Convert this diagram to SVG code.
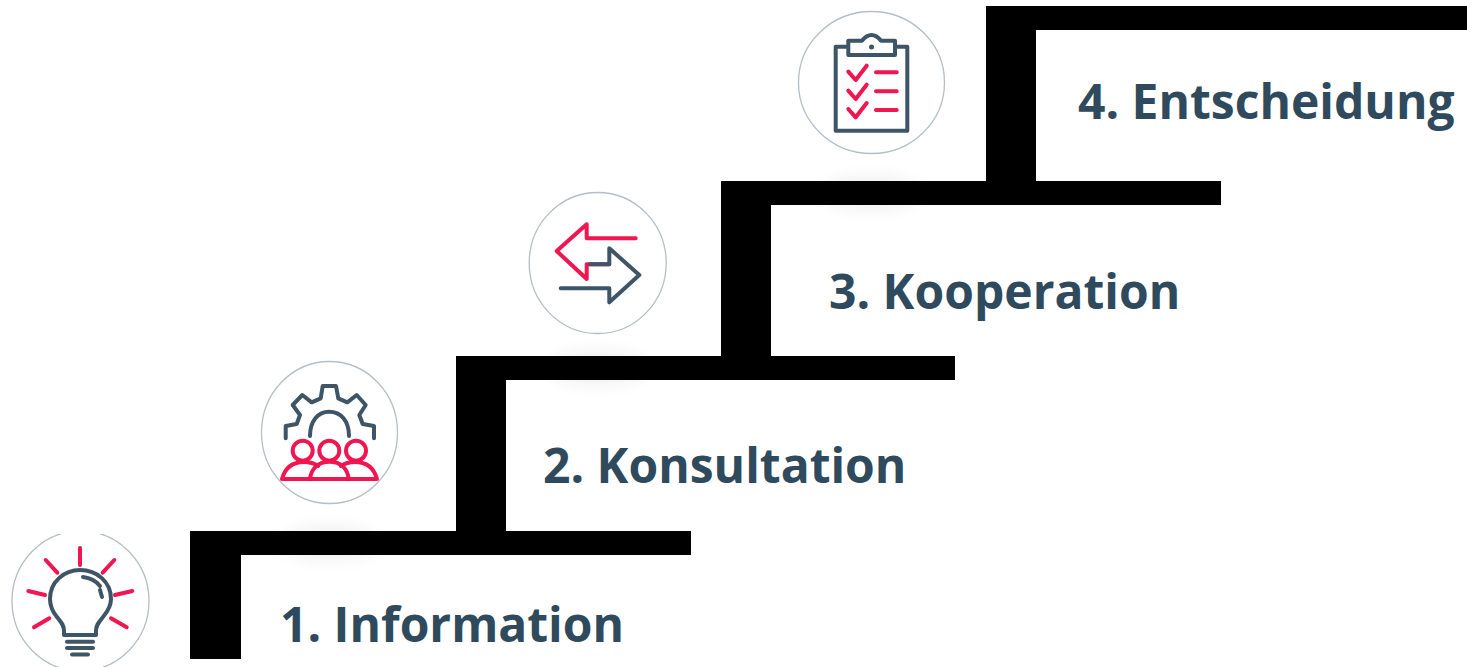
<svg xmlns="http://www.w3.org/2000/svg" width="1467" height="667" viewBox="0 0 1467 667">
<style>
.lbl{font-family:"Open Sans","Liberation Sans",sans-serif;font-weight:700;font-size:48px;fill:#2f4a5c}
.ring{fill:#fff;stroke:#b4bec6;stroke-width:1.3}
.d,.r{fill:none;stroke-width:4;stroke-linecap:round;stroke-linejoin:round}
.d{stroke:#3d5566}.r{stroke:#f0124f}
.soft{filter:url(#soft)}
.sh{fill:#000;opacity:.05;filter:url(#sh)}
.st{fill:#000}
</style>
<defs>
<filter id="soft" x="-10%" y="-10%" width="120%" height="120%"><feGaussianBlur stdDeviation="0.6"/></filter>
<filter id="sh" x="-50%" y="-100%" width="200%" height="300%"><feGaussianBlur stdDeviation="8"/></filter>
</defs>
<rect width="1467" height="667" fill="#fff"/>
<g id="shadows">
<ellipse class="sh" cx="330" cy="543" rx="50" ry="18"/>
<ellipse class="sh" cx="598" cy="368" rx="50" ry="18"/>
<ellipse class="sh" cx="871" cy="193" rx="50" ry="18"/>
</g>
<g id="stairs" class="soft">
<path class="st" d="M190 659V531H691V555H241V659Z"/>
<path class="st" d="M456 531V356H955V380H506V531Z"/>
<path class="st" d="M721 356V181H1221V205H771V356Z"/>
<path class="st" d="M986 181V6H1467V30H1036V181Z"/>
</g>
<g id="node-1" class="soft">
<clipPath id="c1"><rect x="0" y="534" width="160" height="133"/></clipPath>
<ellipse class="ring" cx="80.500" cy="601" rx="68.500" ry="70" clip-path="url(#c1)"/>
<path class="r" d="M80 548V565M45.700 560L57.300 572.700M114.300 560L102.700 572.700M28.300 591L45 595M132.300 591L115 595M34 627.300L49.300 618.300M126.700 627.300L111 618.300"/>
<path class="d" d="M64 635V631C64 625 61 622 57 617C52 611 50 606 50 599C50 582 64 570 80 570C97 570 111 582 111 599C111 606 108 611 103 617C99 622 96 625 96 631V635Z"/>
<path class="d" d="M83 577C91 578 97 582 100 586M100 590L102 597" stroke-width="3"/>
<path class="d" d="M67 641.700H93M67 648H93M72 654.500H88"/>
</g>
<g id="node-2" class="soft">
<ellipse class="ring" cx="329.500" cy="432.500" rx="68" ry="71"/>
<path class="d" d="M285.700 438.300V426L296.700 424L300 415L292.700 405L302.300 395L311.700 402.300L320.700 398.300L322.700 386H336L338.300 398.300L347.300 402.300L356.700 395L365.700 405L359.300 415L362.700 424L374 426V438.300"/>
<path class="d" d="M310 436C310 421 318 411.700 329 411.700C341 411.700 349 421 349 436"/>
<circle class="r" cx="302.700" cy="450.700" r="10"/>
<circle class="r" cx="329.300" cy="450.700" r="10"/>
<circle class="r" cx="356" cy="450.700" r="10"/>
<path class="r" d="M282 479H377C374 468 367 462 355 462C349 462 345 463 341 466M282 479C285 468 292 462 304 462C310 462 314 463 318 466"/>
<path class="r" d="M310 479C311 469 318 461.700 329.500 461.700C341 461.700 348 469 348.500 479"/>
</g>
<g id="node-3" class="soft">
<ellipse class="ring" cx="597.700" cy="263" rx="68.500" ry="70.500"/>
<path class="r" d="M635.700 238.300H586.700V224.300L556.700 251L586.700 279V264.300H609.300"/>
<path class="d" d="M590 264.300H609.300V248.300L639.300 275L609.300 302.300V288.300H560.700"/>
</g>
<g id="node-4" class="soft">
<ellipse class="ring" cx="871.500" cy="82.500" rx="73" ry="71"/>
<path class="d" d="M848 46.700H835.700V130.700H907.300V46.700H895"/>
<path class="d" d="M848.300 55V40.700H862C865 37 868 35 871.500 35C875 35 878 37 881 40.700H895V55Z"/>
<circle cx="871.500" cy="47" r="2.500" fill="#3d5566"/>
<path class="r" d="M848.300 71.700L855.700 80L866.700 65.700M848.300 90.700L855.700 99L866.700 84.700M848.300 109L855.700 117.300L866.700 103"/>
<path class="r" d="M876 72.300H896.700M876 91.300H896.700M876 110H896.700"/>
</g>
<g id="labels">
<text class="lbl" x="280" y="642">1. Information</text>
<text class="lbl" x="543" y="483">2. Konsultation</text>
<text class="lbl" x="829" y="309">3. Kooperation</text>
<text class="lbl" x="1078" y="119">4. Entscheidung</text>
</g>
</svg>
